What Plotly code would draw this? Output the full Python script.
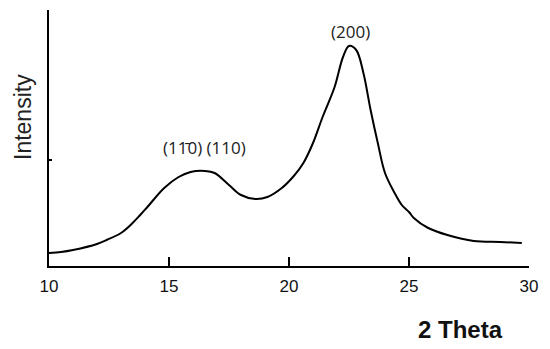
import plotly.graph_objects as go

two_theta = [10.0, 10.5, 11.0, 12.0, 12.4, 13.0, 13.4, 13.8, 14.1, 14.8, 15.4, 15.9, 16.5, 16.9,
             17.5, 18.0, 18.6, 19.1, 19.7, 20.2, 20.6, 21.0, 21.4, 21.9, 22.25, 22.5, 22.8,
             23.1, 23.4, 23.7, 24.0, 24.4, 24.7, 25.0, 25.2, 25.8, 26.6, 27.7, 28.8, 29.7]
intensity = [13, 14, 16, 22, 26, 33, 41, 51, 59, 78, 89, 94, 95, 93,
             81, 71, 67, 69, 78, 90, 103, 123, 149, 179, 209, 220, 216,
             193, 156, 123, 93, 73, 61, 54, 48, 38, 31, 25, 24, 23]

x_ticks = [10, 15, 20, 25, 30]
y_ticks = [106]
peak_labels = ["(11\u03040) (110)", "(200)"]
peak_x = [16.46, 22.58]
peak_y = [119, 235]

fig = go.Figure()
fig.add_trace(go.Scatter(x=two_theta, y=intensity, mode="lines",
                         line=dict(color="black", width=2, shape="spline", smoothing=1.0),
                         hoverinfo="skip", showlegend=False))

for t, xx, yy in zip(peak_labels, peak_x, peak_y):
    fig.add_annotation(x=xx, y=yy, text=t, showarrow=False,
                       xanchor="center", yanchor="middle",
                       font=dict(family="Open Sans", size=17, color="#222"))

# page body has an 8px default margin, so figure is offset by (8, 8)
fig.update_layout(
    width=542, height=341,
    margin=dict(l=41, r=21, t=2, b=83),
    paper_bgcolor="white", plot_bgcolor="white",
    xaxis=dict(range=[10, 30], tickvals=x_ticks, ticktext=[str(v) for v in x_ticks],
               automargin=False,
               showgrid=False, zeroline=False, showline=True, linecolor="black", linewidth=2,
               ticks="inside", ticklen=9, tickwidth=2, tickcolor="black",
               ticklabelstandoff=4,
               tickfont=dict(family="Liberation Sans", size=17, color="#111")),
    yaxis=dict(range=[0, 256], tickvals=y_ticks, showticklabels=False, automargin=False,
               showgrid=False, zeroline=False, showline=True, linecolor="black", linewidth=2,
               ticks="inside", ticklen=3, tickwidth=2, tickcolor="black"),
)
fig.add_annotation(x=0, xref="paper", y=0.5, yref="paper", text="Intensity", showarrow=False,
                   xanchor="center", yanchor="middle",
                   textangle=-90, xshift=-26, yshift=21,
                   font=dict(family="Liberation Sans", size=23, color="#222"))
fig.add_annotation(x=(460 - 49) / 480, xref="paper", y=0, yref="paper", text="<b>2 Theta</b>",
                   showarrow=False, xanchor="center", yanchor="middle", yshift=-63,
                   font=dict(family="Liberation Sans", size=24, color="#111"))
fig.write_html("out.html")
